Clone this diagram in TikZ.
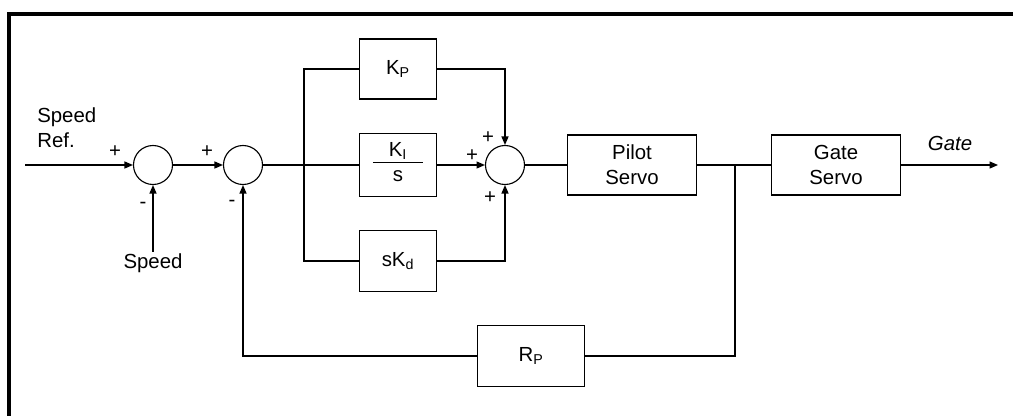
\documentclass[tikz,border=0pt]{standalone}
\usepackage{fontspec}
\setmainfont{Liberation Sans}
\usetikzlibrary{arrows.meta,positioning}

\begin{document}
\begin{tikzpicture}[x=0.025cm, y=-0.025cm,
  every node/.style={font=\fontsize{14.5}{17.5}\selectfont},
  blk/.style={draw, line width=0.8pt, minimum height=1.5cm, align=center, inner sep=0pt},
  sumnode/.style={draw, circle, line width=0.8pt, minimum size=0.975cm, inner sep=0pt},
  sgn/.style={inner sep=0pt},
  sig/.style={line width=0.8pt},
  arr/.style={sig, -{Triangle[length=6pt,width=5pt]}}]
  \useasboundingbox (0,0) rectangle (1013,415);
  \draw[line width=2.2pt] (9,420) -- (9,14) -- (1020,14);

  % summing junctions
  \node[sumnode] (sum1) at (153,165) {};
  \node[sumnode] (sum2) at (243,165) {};
  \node[sumnode] (sum3) at (505,165) {};

  % PID blocks
  \node[blk, minimum width=1.925cm] (kp) at (398,69) {K\textsubscript{P}};
  \node[blk, minimum width=1.925cm, minimum height=1.575cm] (ki) at (398,165)
    {{\renewcommand{\arraystretch}{0.78}\begin{tabular}{@{}c@{}}\makebox[1.25cm]{K\textsubscript{I}}\\\hline\rule{0pt}{13.5pt}s\end{tabular}}};
  \node[blk, minimum width=1.925cm, minimum height=1.525cm] (kd) at (398,261) {sK\textsubscript{d}};

  \node[blk, minimum width=3.225cm] (pilot) at (632,165) {Pilot\\Servo};
  \node[blk, minimum width=3.225cm] (gate) at (836,165) {Gate\\Servo};
  \node[blk, minimum width=2.675cm, minimum height=1.525cm] (rp) at (531,356) {R\textsubscript{P}};

  % labels
  \node[sgn, align=left, anchor=west] (ref) at (37,128) {Speed\\Ref.};
  \node[sgn] (spd) at (153,263) {Speed};
  \node[sgn, font=\fontsize{14.5}{17.5}\selectfont\itshape] (gatelbl) at (950,143) {Gate};
  \node[sgn] (p1) at (115,152) {+};
  \node[sgn] (m1) at (143,205) {-};
  \node[sgn] (p2) at (207,152) {+};
  \node[sgn] (m2) at (232,203) {-};
  \node[sgn] (p3) at (488,138) {+};
  \node[sgn] (p4) at (472,156) {+};
  \node[sgn] (p5) at (490,198) {+};

  \coordinate (in) at (25,165);
  \coordinate (split) at (304,165);
  \coordinate (jn) at (735,165);
  \coordinate (out) at (998,165);

  \draw[arr] (in) -- (sum1);
  \draw[arr] (sum1) -- (sum2);
  \draw[arr] ([yshift=1pt]spd.north) -- (sum1.south);
  \draw[sig] (sum2) -- (ki);
  \draw[sig] (kp.west) -| (split) |- (kd.west);
  \draw[arr] (kp.east) -| (sum3.north);
  \draw[arr] (ki.east) -- (sum3.west);
  \draw[arr] (kd.east) -| (sum3.south);
  \draw[sig] (sum3) -- (pilot);
  \draw[sig] (pilot) -- (gate);
  \draw[arr] (gate) -- (out);
  \draw[sig] (jn) |- (rp.east);
  \draw[arr] (rp.west) -| (sum2.south);
\end{tikzpicture}
\end{document}
